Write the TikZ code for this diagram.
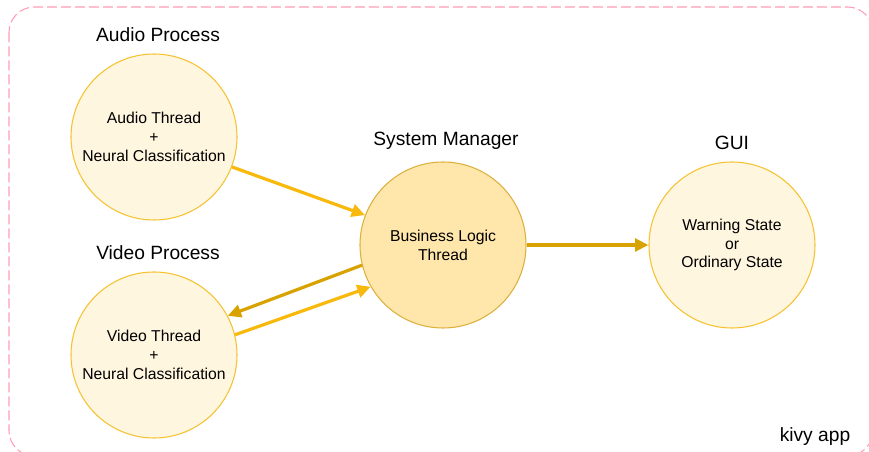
\documentclass[tikz,border=0pt]{standalone}
\usepackage{fontspec}
\setmainfont{Liberation Sans}
\usetikzlibrary{arrows.meta}

\definecolor{procfill}{HTML}{FFF6E0}
\definecolor{procline}{HTML}{F5C232}
\definecolor{mgrfill}{HTML}{FFE7AC}
\definecolor{mgrline}{HTML}{DDB03E}
\definecolor{flowlight}{HTML}{F8B90C}
\definecolor{flowdark}{HTML}{D8A300}
\definecolor{apppink}{HTML}{FF9DB6}

\begin{document}
\begin{tikzpicture}[x=0.75pt, y=-0.75pt,
    proc/.style={circle, draw=procline, fill=procfill, line width=0.8pt,
        minimum size=124.5pt, inner sep=0pt, align=center,
        font=\fontsize{11.8}{14.2}\selectfont},
    manager/.style={proc, draw=mgrline, fill=mgrfill},
    title/.style={font=\fontsize{14.4}{17}\selectfont},
    flow/.style={draw=flowlight, line width=2.4pt,
        -{Triangle[length=10pt, width=9.5pt]}},
    backflow/.style={flow, draw=flowdark},
    ]
    \useasboundingbox (0,0) rectangle (869,452);

    % kivy app frame
    \begin{scope}
        \clip (0,0) rectangle (869,452);
        \draw[apppink, line width=0.8pt, dash pattern=on 7.5pt off 3pt,
            rounded corners=19pt] (9,7) rectangle (873,456);
    \end{scope}
    \node[title] at (815,437)(app){kivy app};

    \node[proc] at (154,137)(audio){Audio Thread\\+\\Neural Classification};
    \node[proc] at (154,355)(video){Video Thread\\+\\Neural Classification};
    \node[manager] at (443,245)(manager){Business Logic\\Thread};
    \node[proc] at (732,245)(gui){Warning State\\or\\Ordinary State};

    \node[title] at (158,35)(audiolbl){Audio Process};
    \node[title] at (158,253)(videolbl){Video Process};
    \node[title] at (446,141)(managerlbl){System Manager};
    \node[title] at (732,143)(guilbl){GUI};

    \path
        (audio.-21) edge[flow] (manager.159)
        (video.14) edge[flow] (manager.210)
        (manager.194) edge[backflow] (video.28)
        (manager.east) edge[backflow] (gui.west)
        ;
\end{tikzpicture}
\end{document}
